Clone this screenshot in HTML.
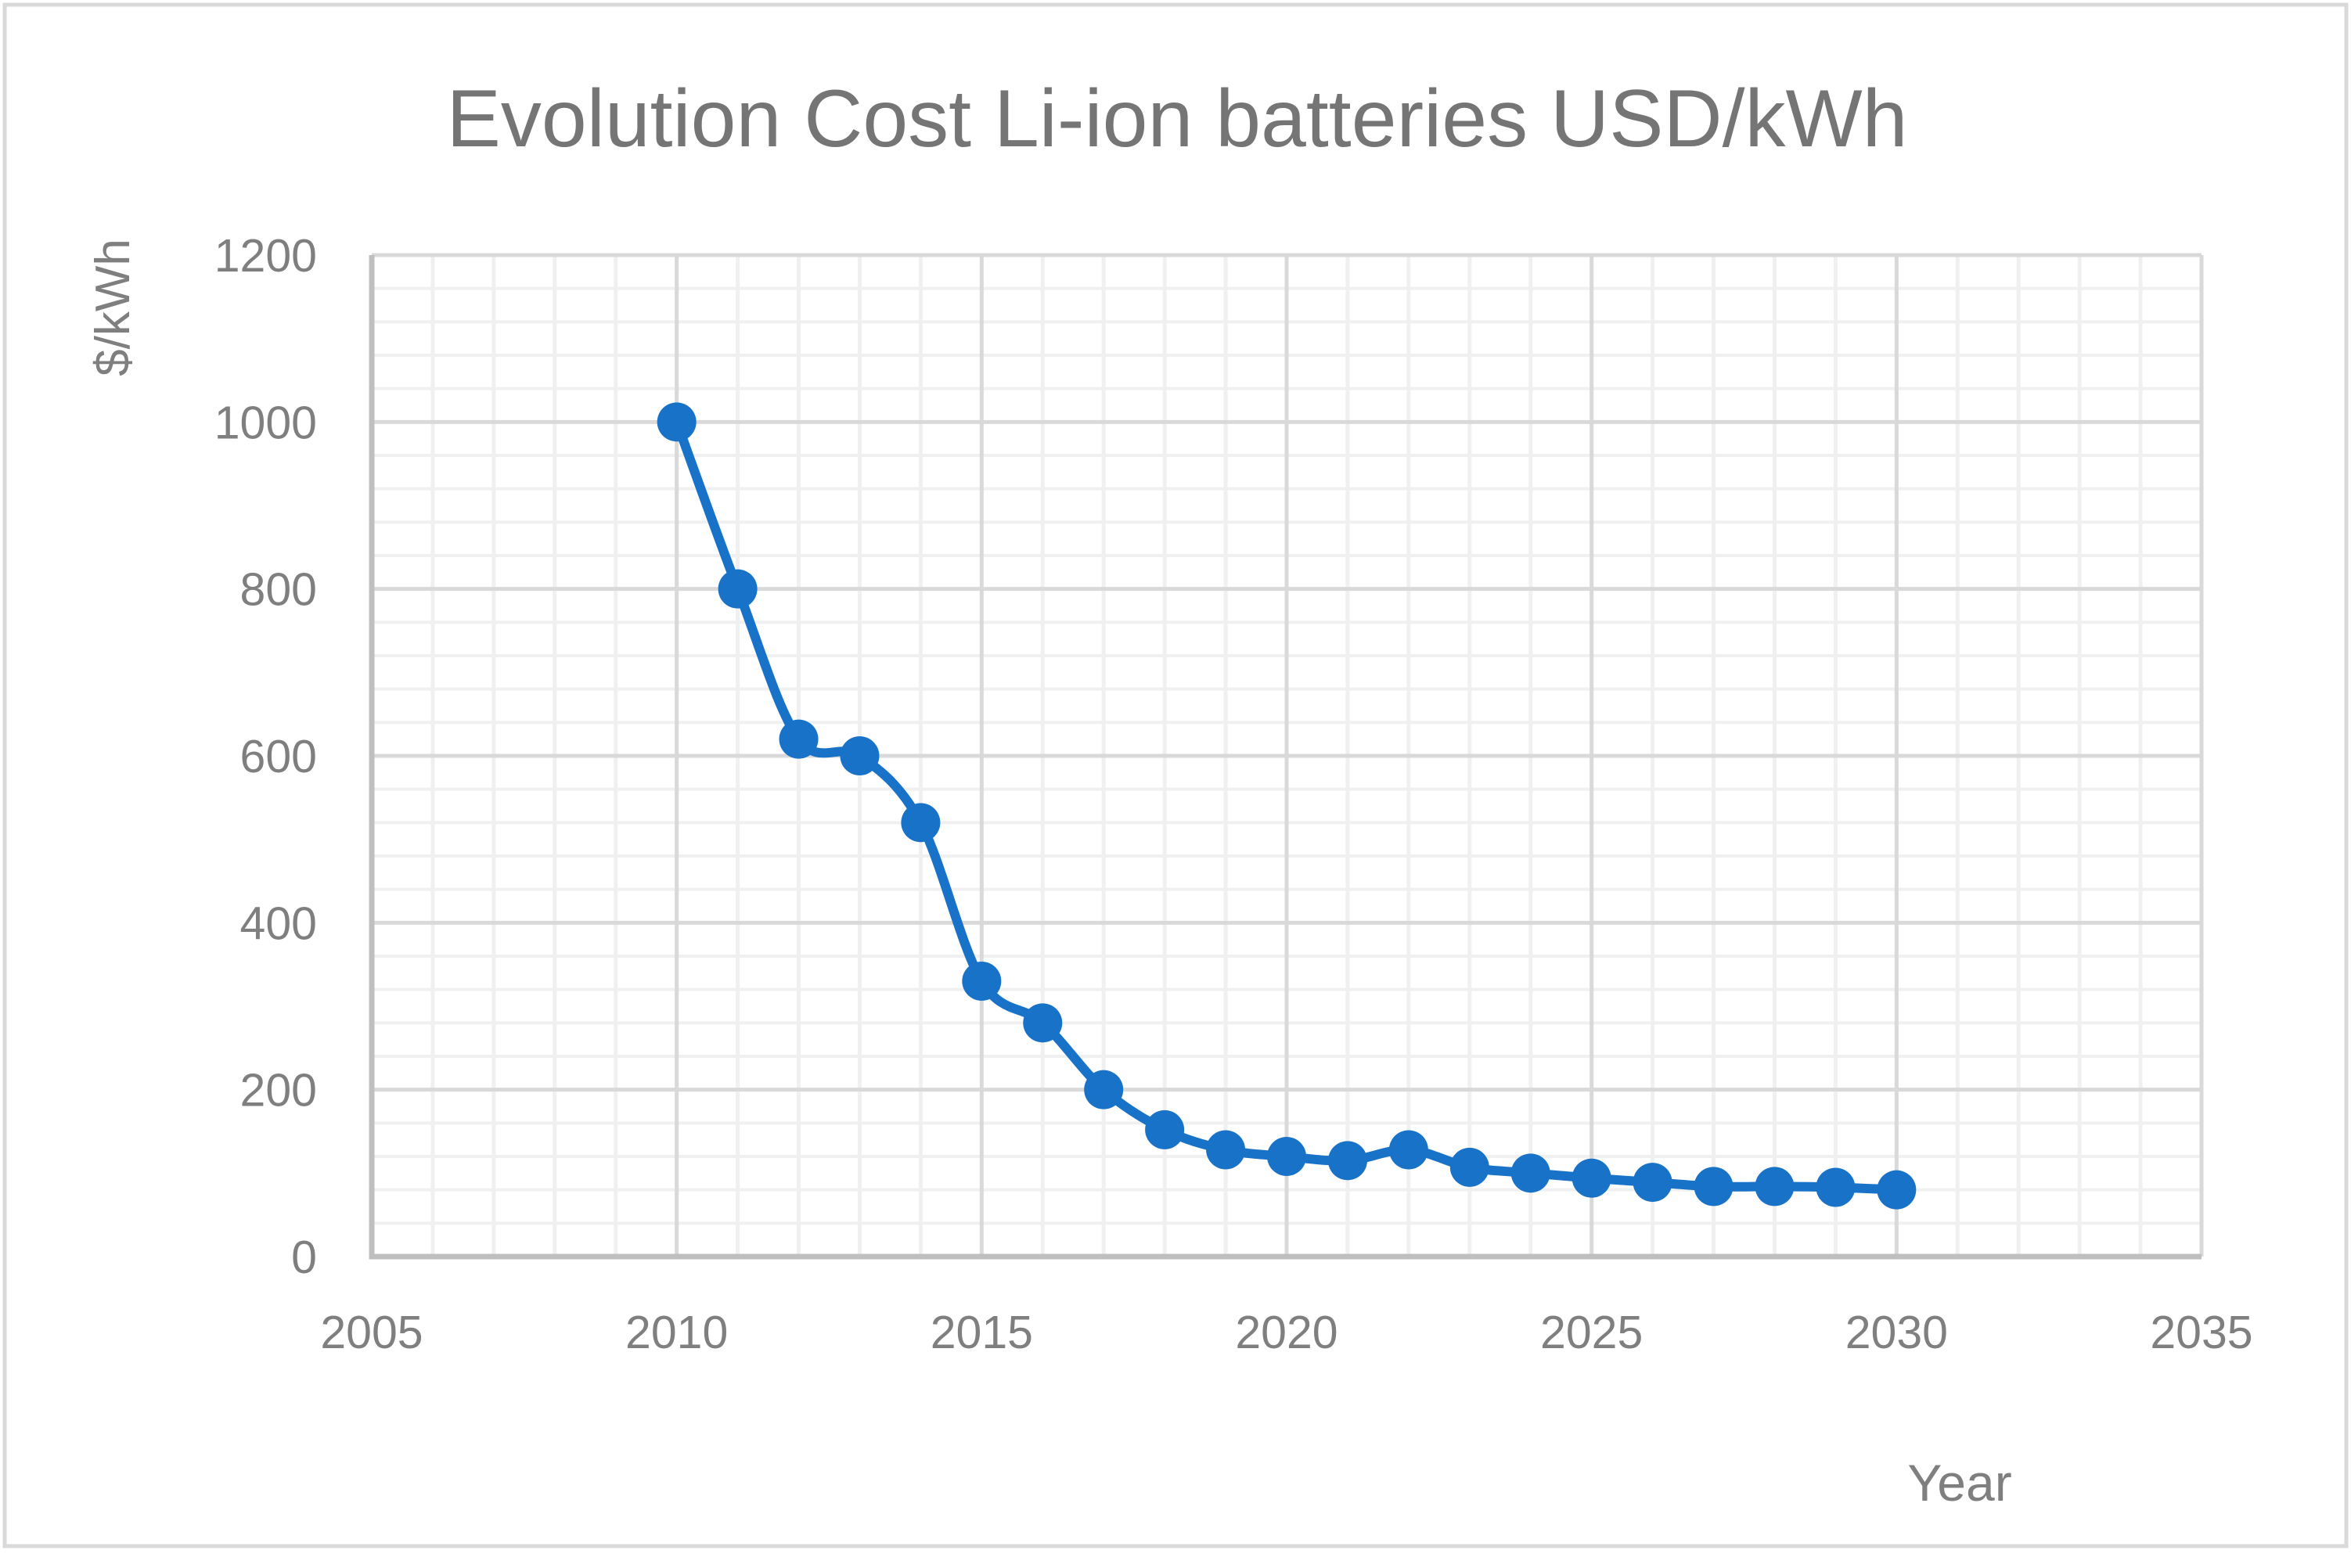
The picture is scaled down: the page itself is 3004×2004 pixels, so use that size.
<!DOCTYPE html>
<html><head><meta charset="utf-8"><style>
html,body{margin:0;padding:0;background:#fff}
svg{display:block;font-family:"Liberation Sans",sans-serif}
</style></head><body>
<svg id="c" width="3004" height="2004" viewBox="0 0 3004 2004">
<rect x="6" y="6" width="2992" height="1970" fill="#fff" stroke="#d9d9d9" stroke-width="5"/>
<text x="1504" y="187" font-size="104" fill="#757575" text-anchor="middle">Evolution Cost Li-ion batteries USD/kWh</text>
<text transform="translate(165,393) rotate(-90)" font-size="62" fill="#7f7f7f" text-anchor="middle">$/kWh</text>
<text x="2504" y="1918" font-size="66" fill="#7f7f7f" text-anchor="middle">Year</text>
<g id="grid"></g><g id="ticks"></g><g id="series"></g>
</svg>
<script>
const years=[2010,2011,2012,2013,2014,2015,2016,2017,2018,2019,2020,2021,2022,2023,2024,2025,2026,2027,2028,2029,2030];
const costs=[1000,800,620,600,520,330,280,200,152,128,120,115,128,107,100,94,89,84,84,83,80];
const yTicks=[0,200,400,600,800,1000,1200];
const xTicks=[2005,2010,2015,2020,2025,2030,2035];
const NS="http://www.w3.org/2000/svg";
const X0=475,X1=2813,Y0=1606,Y1=326;
const xs=v=>X0+(v-2005)/30*(X1-X0);
const ys=v=>Y0-(v/1200)*(Y0-Y1);
function mk(t,a,p){const e=document.createElementNS(NS,t);for(const k in a)e.setAttribute(k,a[k]);p.appendChild(e);return e;}
const g=document.getElementById('grid'),tk=document.getElementById('ticks'),s=document.getElementById('series');
for(let v=0;v<=1200;v+=40){if(v%200===0)continue;
 const l=mk('line',{x1:X0,x2:X1,y1:ys(v),y2:ys(v),stroke:'#f0f0f0','stroke-width':4},g);
 
 }
for(let v=2006;v<2035;v++){if(v%5===0)continue;
 const l=mk('line',{x1:xs(v),x2:xs(v),y1:Y1,y2:Y0,stroke:'#f0f0f0','stroke-width':5},g);
 
 }
yTicks.forEach(v=>{
 const l=mk('line',{x1:X0,x2:X1,y1:ys(v),y2:ys(v),stroke:'#d9d9d9','stroke-width':5},g);
 
 
 const t=mk('text',{x:405,y:ys(v)+21,'font-size':59,fill:'#7f7f7f','text-anchor':'end'},tk);t.textContent=v;
 
 });
xTicks.forEach(v=>{
 const l=mk('line',{x1:xs(v),x2:xs(v),y1:Y1,y2:Y0,stroke:'#d9d9d9','stroke-width':5},g);
 
 
 const t=mk('text',{x:xs(v),y:1723,'font-size':59,fill:'#7f7f7f','text-anchor':'middle'},tk);t.textContent=v;
 
 });
const ax=mk('path',{d:`M${X0} ${Y1}V${Y0}H${X1}`,fill:'none',stroke:'#bfbfbf','stroke-width':7},g);


const P=years.map((y,i)=>[xs(y),ys(costs[i])]);
let d=`M${P[0][0]} ${P[0][1]}`;
for(let i=0;i<P.length-1;i++){const p0=P[i-1]||P[i],p1=P[i],p2=P[i+1],p3=P[i+2]||P[i+1],k=1/6;
 d+=`C${p1[0]+(p2[0]-p0[0])*k} ${p1[1]+(p2[1]-p0[1])*k} ${p2[0]-(p3[0]-p1[0])*k} ${p2[1]-(p3[1]-p1[1])*k} ${p2[0]} ${p2[1]}`;}
const ln=mk('path',{d:d,fill:'none',stroke:'#1872c8','stroke-width':12,'stroke-linejoin':'round'},s);


P.forEach(p=>{const c=mk('circle',{cx:p[0],cy:p[1],r:25,fill:'#1872c8'},s);
 
 });
</script>
</body></html>
